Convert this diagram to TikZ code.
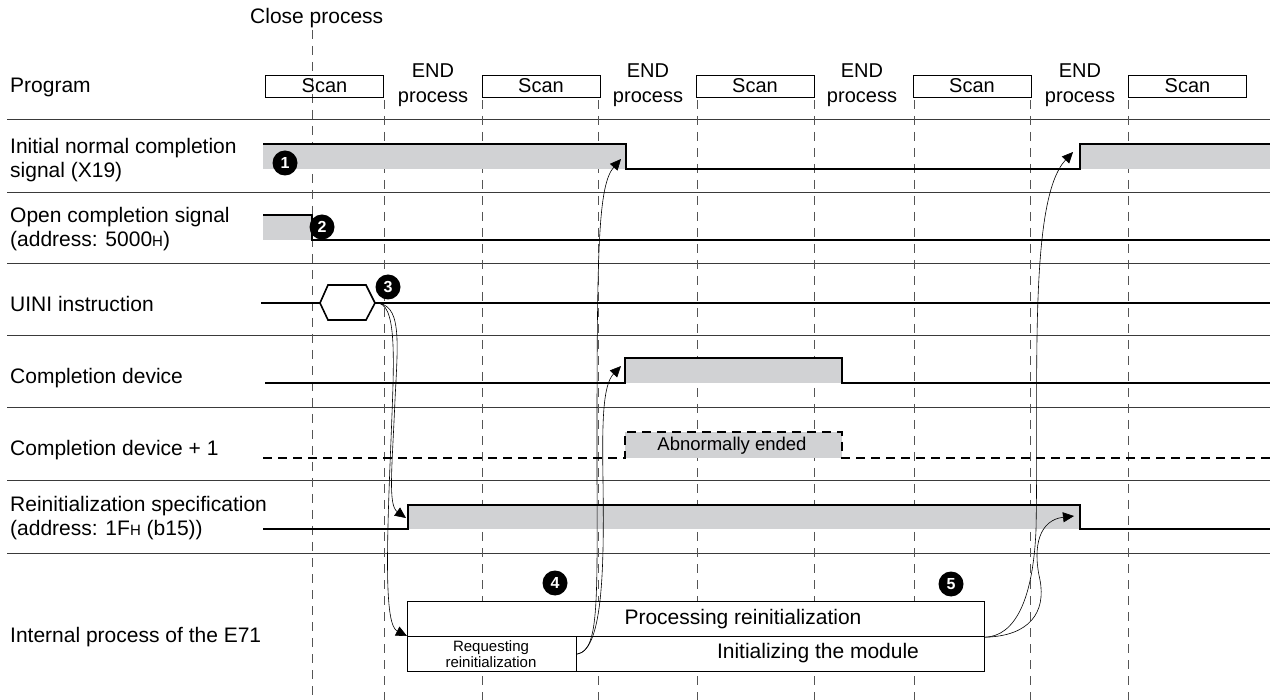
\documentclass[tikz,border=0pt]{standalone}
\usepackage{fontspec}
\setmainfont{Liberation Sans}
\usetikzlibrary{arrows.meta}
\definecolor{sigfill}{HTML}{D1D2D4}
\definecolor{sepcol}{HTML}{3A3A3A}
\definecolor{gridcol}{HTML}{555555}
\begin{document}
\begin{tikzpicture}[x=1pt,y=-1pt,
  lbl/.style={anchor=west,align=left,inner sep=0pt,font=\fontsize{21}{24}\selectfont},
  tl/.style={align=center,inner sep=0pt,font=\fontsize{20}{25}\selectfont},
  scanbox/.style={draw=black,line width=0.9pt,minimum width=118pt,minimum height=22pt,inner sep=0pt,font=\fontsize{20}{22}\selectfont},
  sepline/.style={draw=sepcol,line width=1pt},
  gridline/.style={draw=gridcol,line width=0.9pt,dash pattern=on 9pt off 7pt},
  sigline/.style={draw=black,line width=1.6pt},
  dsigline/.style={draw=black,line width=1.8pt,dash pattern=on 9pt off 6pt},
  marker/.style={circle,fill=black,text=white,minimum size=25pt,inner sep=0pt,font=\fontsize{16}{16}\selectfont\bfseries},
  procbox/.style={draw=black,line width=1.2pt,fill=white,inner sep=0pt,anchor=north west,minimum height=35pt},
  conn/.style={draw=black,line width=0.6pt,-{Triangle[length=11pt,width=10pt]}},
]
\useasboundingbox (0,0) rectangle (1270,700);

% separators
\foreach \yy in {120,193,264,336,408,481,553}
  \draw[sepline] (7,\yy) -- (1270,\yy);

% vertical dashed time lines
\draw[gridline] (312,30) -- (312,700);
\foreach \xx in {384,482,598,697,814,914,1030,1128}
  \draw[gridline] (\xx,100) -- (\xx,700);

% top labels
\node[anchor=west,inner sep=0pt,font=\fontsize{21}{24}\selectfont] (close) at (250,18) {Close process};
\node[lbl] (lprog) at (10,87) {Program};
\node[lbl] (linit) at (10,160) {Initial normal completion\\signal (X19)};
\node[lbl] (lopen) at (10,229) {Open completion signal\\(address: 5000{\fontsize{15}{15}\selectfont H})};
\node[lbl] (luini) at (10,304) {UINI instruction};
\node[lbl] (lcd) at (10,378) {Completion device};
\node[lbl] (lcd1) at (10,450) {Completion device + 1};
\node[lbl] (lrs) at (10,518) {Reinitialization specification\\(address: 1F{\fontsize{15}{15}\selectfont H} (b15))};
\node[lbl] (lint) at (10,637) {Internal process of the E71};

% program scans
\node[scanbox] (s1) at (324.5,86) {Scan};
\node[scanbox] (s2) at (541,86) {Scan};
\node[scanbox] (s3) at (755,86) {Scan};
\node[scanbox] (s4) at (972,86) {Scan};
\node[scanbox] (s5) at (1187.5,86) {Scan};
\node[tl] (e1) at (433,85) {END\\process};
\node[tl] (e2) at (648,85) {END\\process};
\node[tl] (e3) at (862,85) {END\\process};
\node[tl] (e4) at (1080,85) {END\\process};

% row 1: initial normal completion signal
\fill[sigfill] (263,144) rectangle (626,169);
\fill[sigfill] (1080,144) rectangle (1270,169);
\draw[sigline] (263,144) -- (626,144) -- (626,169) -- (1080,169) -- (1080,144) -- (1270,144);

% row 2: open completion signal
\fill[sigfill] (263,215) rectangle (312,240);
\draw[sigline] (263,215) -- (312,215) -- (312,240) -- (1270,240);

% row 3: UINI instruction
\draw[sigline] (261,303) -- (320,303);
\draw[sigline] (320,303) -- (328,285) -- (366,285) -- (375,303) -- (366,320) -- (328,320) -- cycle;
\draw[sigline] (375,303) -- (1270,303);

% row 4: completion device
\fill[sigfill] (625,358) rectangle (842,383);
\draw[sigline] (265,383) -- (625,383) -- (625,358) -- (842,358) -- (842,383) -- (1270,383);

% row 5: completion device + 1
\fill[sigfill] (625,432) rectangle (842,458);
\draw[dsigline] (263,458) -- (625,458) -- (625,432) -- (842,432) -- (842,458) -- (1270,458);
\node[font=\fontsize{18.5}{20}\selectfont,inner sep=0pt] (abn) at (732,446) {Abnormally ended};

% row 6: reinitialization specification
\fill[sigfill] (408,505) rectangle (1080,529);
\draw[sigline] (263,529) -- (408,529) -- (408,505) -- (1080,505) -- (1080,529) -- (1270,529);

% row 7: internal process
\node[procbox,minimum width=577pt] (proc) at (407,601) {};
\node[procbox,minimum width=169pt] (req) at (407,636) {};
\node[procbox,minimum width=408pt] (init) at (576,636) {};
\node[font=\fontsize{21}{23}\selectfont,inner sep=0pt] (proctxt) at (743,619) {Processing reinitialization};
\node[font=\fontsize{21}{23}\selectfont,inner sep=0pt] (inittxt) at (818,653) {Initializing the module};
\node[align=center,font=\fontsize{15}{16}\selectfont,inner sep=0pt] (reqtxt) at (491,654) {Requesting\\reinitialization};

% connector end points
\coordinate (hexR) at (375,303);
\coordinate (rsRise) at (406,518);
\coordinate (inFall) at (621,159);
\coordinate (cdRise) at (621,366);
\coordinate (inRise) at (1073,152);
\coordinate (rsFall) at (1074,516);

% connectors
\draw[conn] (hexR) .. controls (402,303) and (398,340) .. (395,400) .. controls (392,470) and (388,505) .. (rsRise);
\draw[conn] (hexR) .. controls (398,300) and (394,360) .. (391,440) .. controls (386,560) and (385,625) .. (req.north west);
\draw[conn] (req.east) .. controls (600,650) and (597,600) .. (597,450) .. controls (597,250) and (598,185) .. (inFall);
\draw[conn] (req.east) .. controls (604,650) and (604,560) .. (603,480) .. controls (602,420) and (603,385) .. (cdRise);
\draw[conn] (proc.south east) .. controls (1015,636) and (1033,600) .. (1036,530) .. controls (1039,380) and (1028,200) .. (inRise);
\draw[conn] (proc.south east) .. controls (1030,636) and (1046,612) .. (1040,580) .. controls (1032,545) and (1040,520) .. (rsFall);

% markers
\node[marker] (m1) at (285,163) {1};
\node[marker] (m2) at (322,227) {2};
\node[marker] (m3) at (388,287) {3};
\node[marker] (m4) at (555,583) {4};
\node[marker] (m5) at (951,584) {5};
\end{tikzpicture}
\end{document}
